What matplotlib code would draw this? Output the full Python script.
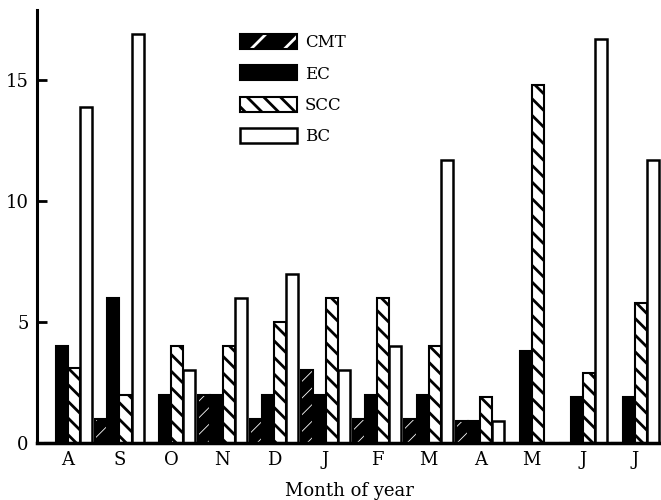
import matplotlib
matplotlib.use("Agg")
import matplotlib.pyplot as plt
from matplotlib.patches import Patch
import numpy as np

plt.rcParams['font.family'] = 'DejaVu Serif'
plt.rcParams['hatch.linewidth'] = 2.0

months = ['A', 'S', 'O', 'N', 'D', 'J', 'F', 'M', 'A', 'M', 'J', 'J']
cmt = [0, 1, 0, 2, 1, 3, 1, 1, 0.9, 0, 0, 0]
ec = [4, 6, 2, 2, 2, 2, 2, 2, 0.9, 3.8, 1.9, 1.9]
scc = [3.1, 2, 4, 4, 5, 6, 6, 4, 1.9, 14.8, 2.9, 5.8]
bc = [13.9, 16.9, 3, 6, 7, 3, 4, 11.7, 0.9, 0, 16.7, 11.7]

x = np.arange(len(months))
w = 0.235

fig = plt.figure(figsize=(6.61, 5.0), dpi=100)
ax = fig.add_axes([0.056, 0.114, 0.944, 0.866])

# CMT: black with thin white hatching, outlined in black
cmt_fill = ax.bar(x - 1.5 * w, cmt, w, color='black', edgecolor='white',
                  hatch='//', linewidth=0)
for p in cmt_fill:
    if hasattr(p, 'set_hatch_linewidth'):
        p.set_hatch_linewidth(0.6)
ax.bar(x - 1.5 * w, cmt, w, fill=False, edgecolor='black', linewidth=1.5)

ax.bar(x - 0.5 * w, ec, w, color='black', edgecolor='black', linewidth=1.5)
ax.bar(x + 0.5 * w, scc, w, color='white', edgecolor='black',
       hatch='\\\\', linewidth=1.5)
ax.bar(x + 1.5 * w, bc, w, color='white', edgecolor='black', linewidth=1.8)

ax.set_xlim(-0.6, 11.51)
ax.set_ylim(0, 17.9)
ax.set_yticks([0, 5, 10, 15])
ax.set_xticks(x)
ax.set_xticklabels(months)
ax.tick_params(axis='x', length=0, pad=6, labelsize=13)
ax.tick_params(axis='y', direction='in', length=7, width=2, labelsize=13, pad=6)
ax.set_xlabel('Month of year', fontsize=13, labelpad=9)

for s in ['top', 'right']:
    ax.spines[s].set_visible(False)
ax.spines['left'].set_linewidth(2.2)
ax.spines['bottom'].set_linewidth(2.5)

h_cmt_a = Patch(facecolor='black', edgecolor='white', hatch='/', linewidth=0)
if hasattr(h_cmt_a, 'set_hatch_linewidth'):
    h_cmt_a.set_hatch_linewidth(0.6)
h_cmt_b = Patch(fill=False, edgecolor='black', linewidth=1.5)
h_ec = Patch(facecolor='black', edgecolor='black', linewidth=1.5)
h_scc = Patch(facecolor='white', edgecolor='black', hatch='\\\\', linewidth=1.5)
h_bc = Patch(facecolor='white', edgecolor='black', linewidth=1.8)

fig.legend([(h_cmt_a, h_cmt_b), h_ec, h_scc, h_bc], ['CMT', 'EC', 'SCC', 'BC'],
           loc='upper left', bbox_to_anchor=(240 / 661, 1 - 34 / 500),
           frameon=False, fontsize=12, handlelength=3.4, handleheight=1.0,
           labelspacing=0.85, handletextpad=0.5, borderpad=0, borderaxespad=0)

fig.savefig('out.png', dpi=100)
